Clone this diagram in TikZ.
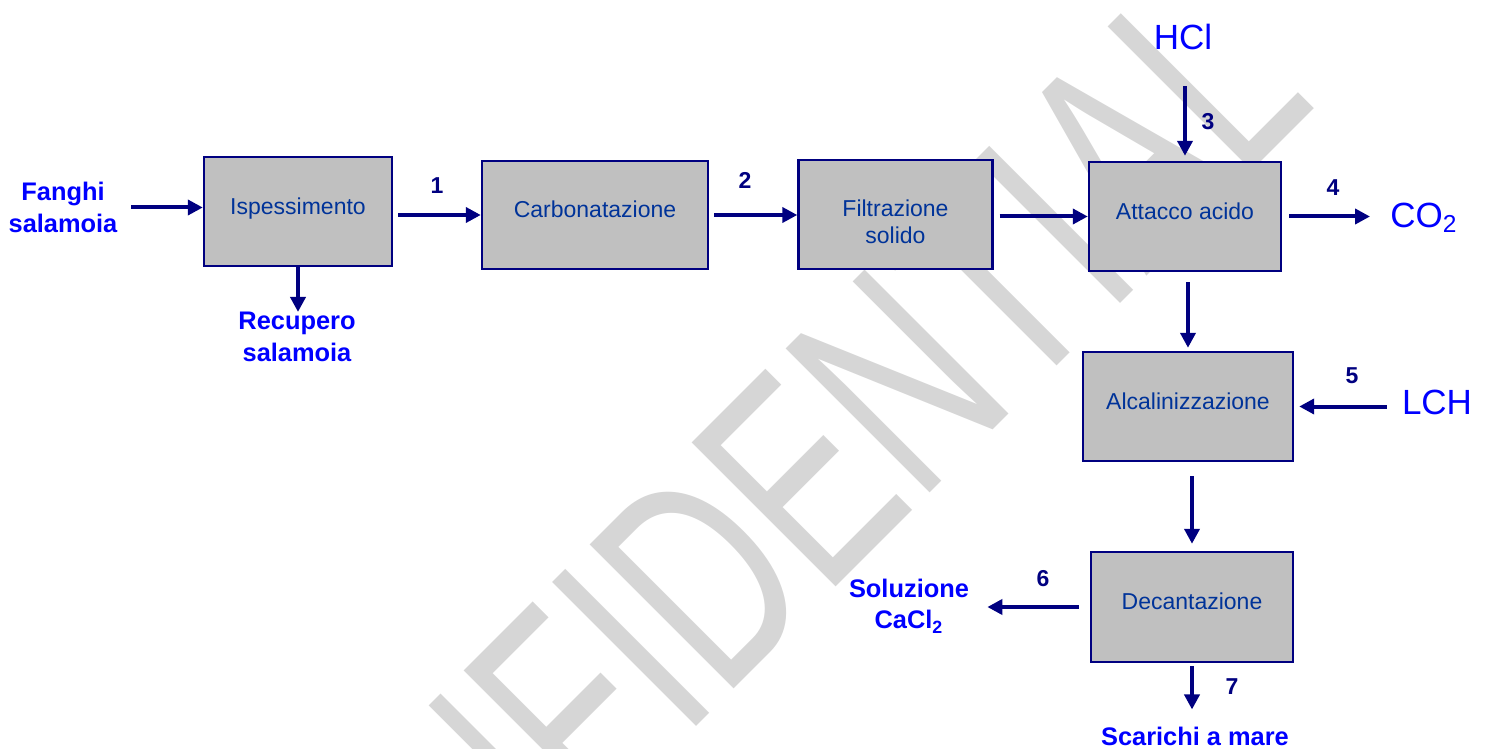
\documentclass[tikz,border=0pt]{standalone}
\usepackage{fontspec}
\setmainfont{Liberation Sans}
\newfontfamily\stampfont{Liberation Sans}[FakeStretch=0.675]
\usetikzlibrary{arrows.meta}

\definecolor{navy}{RGB}{0,0,128}
\definecolor{boxgray}{RGB}{192,192,192}
\definecolor{boxtext}{RGB}{0,51,153}
\definecolor{streamblue}{RGB}{0,0,255}

\begin{document}
\begin{tikzpicture}[x=0.5pt,y=-0.5pt]
	\tikzstyle{box}=[draw=navy, line width=1.2pt, fill=boxgray, text=boxtext, align=center, inner sep=0pt, font=\fontsize{11.5}{13.5}\selectfont, text height=8.5pt, text depth=5.6pt]
	\tikzstyle{flow}=[draw=navy, line width=2pt, -{Triangle[length=7.5pt,width=7.5pt]}]
	\tikzstyle{stream}=[text=streamblue, align=center, inner sep=0pt, font=\bfseries\fontsize{12.7}{15.8}\selectfont]
	\tikzstyle{chem}=[text=streamblue, inner sep=0pt, font=\fontsize{17.5}{20}\selectfont]
	\tikzstyle{num}=[text=navy, inner sep=0pt, font=\bfseries\fontsize{11.5}{13}\selectfont]
	\useasboundingbox (0,0) rectangle (1490,749);
	% watermark
	\node (stamp) [rotate=45, anchor=base, text=black!16, font=\stampfont\fontsize{148}{150}\selectfont] at (801,622) {CONFIDENTIAL};
	% process blocks
	\node (isp) [box, minimum width=94pt, minimum height=54.5pt] at (298,211.5) {Ispessimento};
	\node (carb) [box, minimum width=113pt, minimum height=54pt] at (595,215) {Carbonatazione};
	\node (filt) [box, minimum width=97pt, minimum height=54.5pt, text height=28.7pt, text depth=0pt] at (895.5,214.5) {Filtrazione\\solido};
	\node (att) [box, minimum width=96pt, minimum height=54.5pt] at (1185,216.5) {Attacco acido};
	\node (alc) [box, minimum width=105pt, minimum height=54.5pt] at (1188,406.5) {Alcalinizzazione};
	\node (dec) [box, minimum width=101pt, minimum height=55pt] at (1192,607) {Decantazione};
	% inlets and outlets
	\node (fanghi) [stream] at (63,207.5) {Fanghi\\salamoia};
	\node (recupero) [stream] at (297,337) {Recupero\\salamoia};
	\node (soluz) [stream] at (909,606) {Soluzione\\CaCl\textsubscript{2}};
	\node (scarichi) [stream] at (1195,736) {Scarichi a mare};
	\node (hcl) [chem] at (1183,37) {HCl};
	\node (co2) [chem] at (1424,218) {CO\textsubscript{2}};
	\node (lch) [chem] at (1437,402) {LCH};
	% stream numbers
	\node (n1) [num] at (437,186) {1};
	\node (n2) [num] at (745,180) {2};
	\node (n3) [num] at (1208,122) {3};
	\node (n4) [num] at (1333,188) {4};
	\node (n5) [num] at (1352,376) {5};
	\node (n6) [num] at (1043,579) {6};
	\node (n7) [num] at (1232,687) {7};
	% flows
	\draw[flow, shorten <=6.75pt] (fanghi.east) -- (fanghi.east -| isp.west);
	\draw[flow] (isp.south) -- (isp.south |- recupero.north);
	\draw[flow, shorten <=2.5pt] (isp.east |- carb.west) -- (carb.west);
	\draw[flow, shorten <=2.5pt] (carb.east) -- (carb.east -| filt.west);
	\draw[flow, shorten <=3pt] (filt.east |- att.west) -- (att.west);
	\draw[flow, shorten <=18pt, shorten >=2.5pt] (att.north |- hcl.south) -- (att.north);
	\draw[flow, shorten <=3.5pt, shorten >=10pt] (att.east) -- (att.east -| co2.west);
	\draw[flow, shorten <=5pt, shorten >=1.5pt] (alc.north |- att.south) -- (alc.north);
	\draw[flow, shorten <=7.5pt, shorten >=2.5pt] (alc.east -| lch.west) -- (alc.east);
	\draw[flow, shorten <=7pt, shorten >=3.5pt] (dec.north |- alc.south) -- (dec.north);
	\draw[flow, shorten <=5.5pt, shorten >=9pt] (dec.west) -- (dec.west -| soluz.east);
	\draw[flow, shorten <=1.5pt, shorten >=8.4pt] (dec.south) -- (dec.south |- scarichi.north);
\end{tikzpicture}
\end{document}
